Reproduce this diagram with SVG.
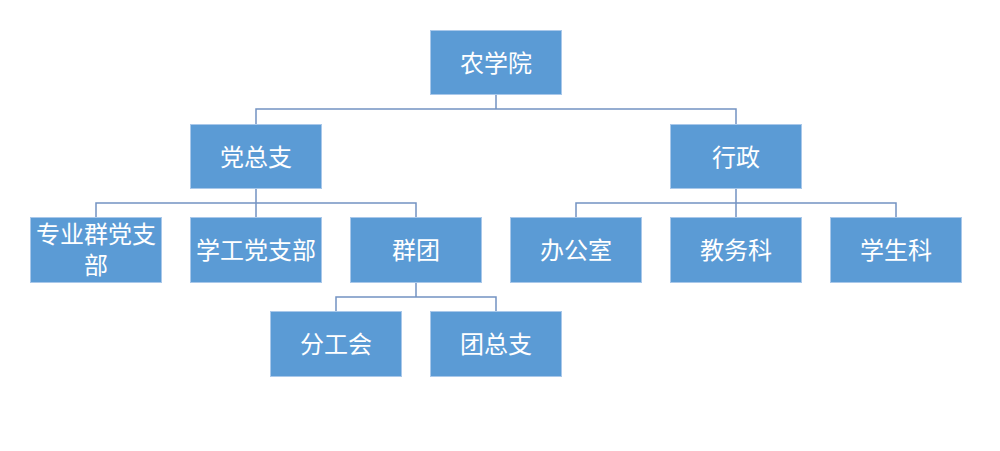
<svg xmlns="http://www.w3.org/2000/svg" width="1000" height="451" viewBox="0 0 1000 451">
<style>
.box{fill:#5b9bd5;stroke:#a9c8ea;stroke-width:1}
.lbl{font-family:"Noto Sans CJK SC","Microsoft YaHei",sans-serif;font-size:24px;fill:#ffffff;text-anchor:middle;dominant-baseline:central}
.con{fill:none;stroke:#7393c2;stroke-width:1.5}
</style>
<rect width="1000" height="451" fill="#ffffff"/>
<g id="connectors">
<path class="con" d="M496,95 V109 M256,124 V109 H736 V124"/>
<path class="con" d="M256,188 V218 M96,218 V203 H416 V218"/>
<path class="con" d="M736,188 V218 M576,218 V203 H896 V218"/>
<path class="con" d="M416,282 V297 M336,312 V297 H496 V312"/>
</g>
<g id="n-nongxueyuan"><rect class="box" x="430.5" y="30.5" width="131" height="64"/><text class="lbl" x="496" y="61">农学院</text></g>
<g id="n-dangzongzhi"><rect class="box" x="190.5" y="124.5" width="131" height="64"/><text class="lbl" x="256" y="155">党总支</text></g>
<g id="n-xingzheng"><rect class="box" x="670.5" y="124.5" width="131" height="64"/><text class="lbl" x="736" y="155">行政</text></g>
<g id="n-zhuanye"><rect class="box" x="30.5" y="217.5" width="131" height="65"/><text class="lbl" x="96" y="232">专业群党支<tspan x="96" dy="31">部</tspan></text></g>
<g id="n-xuegong"><rect class="box" x="190.5" y="217.5" width="131" height="65"/><text class="lbl" x="256" y="248">学工党支部</text></g>
<g id="n-quntuan"><rect class="box" x="350.5" y="217.5" width="131" height="65"/><text class="lbl" x="416" y="248">群团</text></g>
<g id="n-bangongshi"><rect class="box" x="510.5" y="217.5" width="131" height="65"/><text class="lbl" x="576" y="248">办公室</text></g>
<g id="n-jiaowuke"><rect class="box" x="670.5" y="217.5" width="131" height="65"/><text class="lbl" x="736" y="248">教务科</text></g>
<g id="n-xueshengke"><rect class="box" x="830.5" y="217.5" width="131" height="65"/><text class="lbl" x="896" y="248">学生科</text></g>
<g id="n-fengonghui"><rect class="box" x="270.5" y="311.5" width="131" height="65"/><text class="lbl" x="336" y="342">分工会</text></g>
<g id="n-tuanzongzhi"><rect class="box" x="430.5" y="311.5" width="131" height="65"/><text class="lbl" x="496" y="342">团总支</text></g>
</svg>
